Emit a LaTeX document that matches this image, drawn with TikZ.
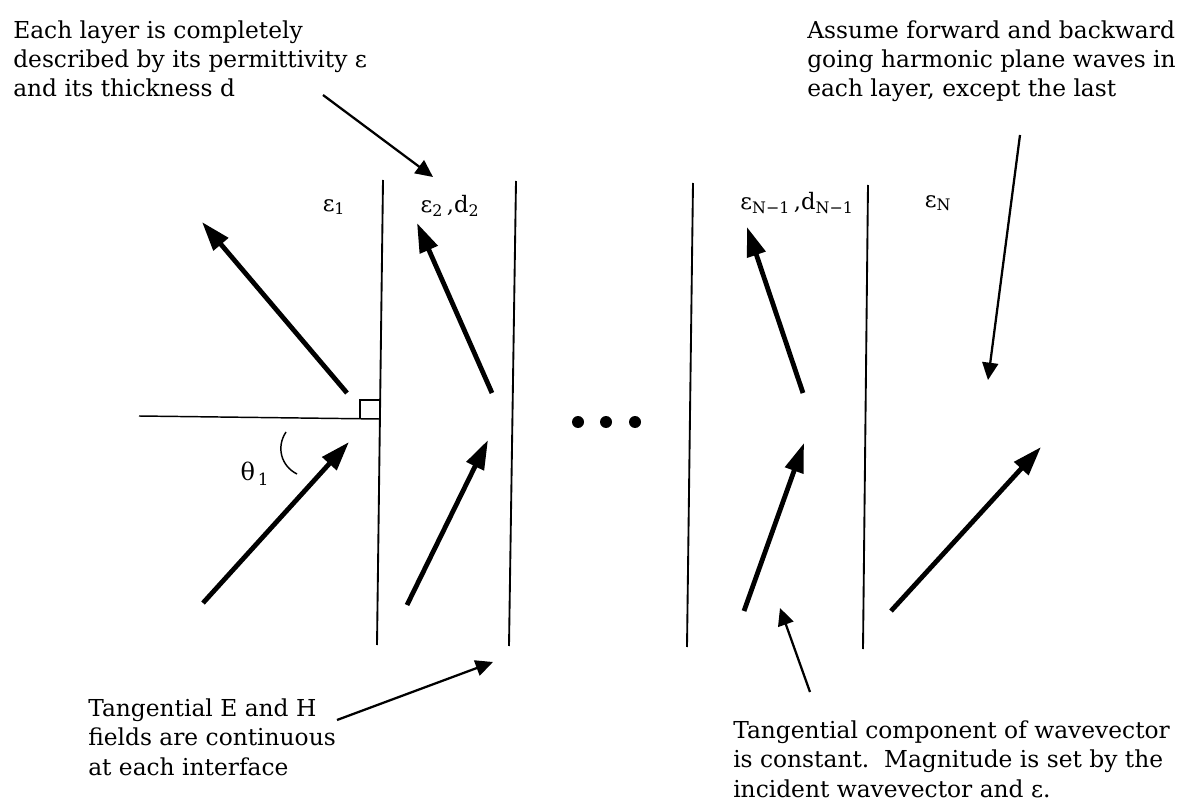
\documentclass[tikz,border=0pt]{standalone}
\usepackage{fontspec}
\setmainfont{DejaVu Serif}
\usetikzlibrary{arrows.meta}
\begin{document}
\begin{tikzpicture}[x=0.75pt,y=-0.75pt,
  txt/.style={anchor=base west, align=left, inner sep=0pt, font=\fontsize{17.5}{22}\selectfont},
  lbl/.style={inner sep=0pt, font=\fontsize{17}{20}\selectfont},
  iface/.style={line width=1.4pt},
  wave/.style={line width=3.6pt, -{Triangle[length=22pt,width=14pt]}},
  note/.style={line width=1.7pt, -{Triangle[length=13pt,width=12pt]}},
  thin/.style={line width=1.1pt}
]
\useasboundingbox (0,0) rectangle (1182,802);

% interfaces
\coordinate (i1t) at (383,180); \coordinate (i1b) at (377,645);
\coordinate (i2t) at (516,181); \coordinate (i2b) at (509,646);
\coordinate (i3t) at (693,183); \coordinate (i3b) at (687,647);
\coordinate (i4t) at (868,185); \coordinate (i4b) at (863,649);
\draw[iface] (i1t) -- (i1b);
\draw[iface] (i2t) -- (i2b);
\draw[iface] (i3t) -- (i3b);
\draw[iface] (i4t) -- (i4b);

% normal, right angle, angle arc
\coordinate (n0) at (139,416); \coordinate (n1) at (380,419);
\draw[thin] (n0) -- (n1);
\coordinate (ra1) at (360,419); \coordinate (ra2) at (360,400); \coordinate (ra3) at (380,400);
\draw[thin] (ra1) -- (ra2) -- (ra3);
\coordinate (ar1) at (286,432); \coordinate (ar2) at (297,474);
\draw[thin] (ar1) .. controls (276,447) and (281,466) .. (ar2);

% wave vectors
\coordinate (w1a) at (203,603); \coordinate (w1b) at (349,442);
\coordinate (r1a) at (347,393); \coordinate (r1b) at (202,222);
\coordinate (w2a) at (407,605); \coordinate (w2b) at (488,440);
\coordinate (r2a) at (492,393); \coordinate (r2b) at (417,223);
\coordinate (w3a) at (744,611); \coordinate (w3b) at (804,443);
\coordinate (r3a) at (803,393); \coordinate (r3b) at (747,227);
\coordinate (w4a) at (891,611); \coordinate (w4b) at (1041,447);
\draw[wave] (w1a) -- (w1b);
\draw[wave] (r1a) -- (r1b);
\draw[wave] (w2a) -- (w2b);
\draw[wave] (r2a) -- (r2b);
\draw[wave] (w3a) -- (w3b);
\draw[wave] (r3a) -- (r3b);
\draw[wave] (w4a) -- (w4b);

% dots
\fill (578,422) circle[radius=6];
\fill (606,422) circle[radius=6];
\fill (635,422) circle[radius=6];

% labels
\node[lbl] (e1) at (334,207) {ε\textsubscript{1}};
\node[lbl] (e2) at (450,206) {ε\textsubscript{2}\,,d\textsubscript{2}};
\node[lbl] (eN1) at (797,203) {ε\textsubscript{N−1}\,,d\textsubscript{N−1}};
\node[lbl] (eN) at (938,203) {ε\textsubscript{N}};
\node[lbl, font=\fontsize{18}{20}\selectfont] (th) at (255,474) {θ\textsubscript{\,1}};

% annotation texts (anchored at the baseline of the last line)
\node[txt] (tl) at (13,97) {Each layer is completely\\described by its permittivity ε\\and its thickness d};
\node[txt] (tr) at (807,97) {Assume forward and backward\\going harmonic plane waves in\\each layer, except the last};
\node[txt] (bl) at (88,775) {Tangential E and H\\fields are continuous\\at each interface};
\node[txt] (br) at (733,797) {Tangential component of wavevector\\is constant.\ \ Magnitude is set by the\\incident wavevector and ε.};

% annotation arrows
\coordinate (a1s) at (323,95);   \coordinate (a1e) at (433,177);
\coordinate (a2s) at (1020,135); \coordinate (a2e) at (988,380);
\coordinate (a3s) at (337,720);  \coordinate (a3e) at (493,662);
\coordinate (a4s) at (810,692);  \coordinate (a4e) at (780,608);
\draw[note] (a1s) -- (a1e);
\draw[note] (a2s) -- (a2e);
\draw[note] (a3s) -- (a3e);
\draw[note] (a4s) -- (a4e);
\end{tikzpicture}
\end{document}
